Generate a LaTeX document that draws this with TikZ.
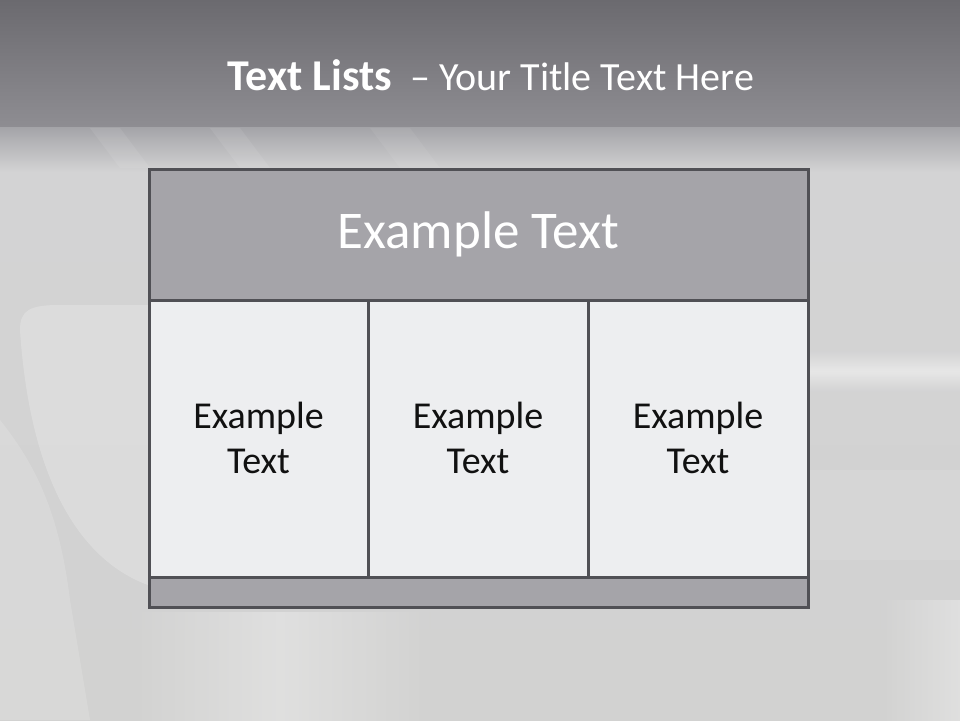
\documentclass[tikz,border=0pt]{standalone}
\usepackage{fontspec}
\setmainfont{Carlito}
\begin{document}
\begin{tikzpicture}[x=1pt,y=-1pt,
  frame/.style={draw=boxline,line width=3pt},
  hdr/.style={frame,fill=hdrfill},
  colbox/.style={frame,fill=colfill},
  coltext/.style={align=center,text=coltxt,font=\fontsize{38}{45}\selectfont},
  soft/.style={fill=white,opacity=#1},
]
\definecolor{boxline}{HTML}{505055}
\definecolor{hdrfill}{HTML}{A5A4A9}
\definecolor{colfill}{HTML}{EDEEF0}
\definecolor{coltxt}{HTML}{111111}
\definecolor{bandtop}{HTML}{6B6A6F}
\definecolor{bandbot}{HTML}{8E8D92}
\definecolor{bgupper}{HTML}{A2A2A6}
\definecolor{bgmid}{HTML}{D3D3D4}
\definecolor{bglow}{HTML}{D2D2D1}
\useasboundingbox (0,0) rectangle (960,720);
% background
\shade[top color=bgmid, bottom color=bglow] (0,170) rectangle (960,720);
\shade[top color=bgupper, bottom color=bgmid] (0,125) rectangle (960,172);
\shade[top color=bandtop, bottom color=bandbot] (0,0) rectangle (960,126);
% soft background shapes
\fill[soft=0.22] (20,330) .. controls (20,310) and (30,305) .. (60,305) -- (148,305) -- (148,585) .. controls (80,560) and (30,480) .. (20,330) -- cycle;
\fill[soft=0.15] (0,420) .. controls (40,470) and (60,520) .. (70,600) -- (90,720) -- (0,720) -- cycle;
\shade[top color=bgmid, bottom color=bgmid, middle color=white, opacity=0.45] (810,350) rectangle (960,392);
\fill[soft=0.1] (810,470) rectangle (960,560);
\fill[soft=0.08] (90,128) -- (120,128) -- (150,168) -- (120,168) -- cycle;
\fill[soft=0.08] (210,128) -- (240,128) -- (270,168) -- (240,168) -- cycle;
\fill[soft=0.06] (370,128) -- (410,128) -- (440,168) -- (400,168) -- cycle;
\shade[left color=bglow, right color=bglow, middle color=white, opacity=0.3] (130,612) rectangle (430,720);
\shade[left color=bglow, right color=white, opacity=0.3] (880,600) rectangle (960,720);
% title
\node[text=white,font=\fontsize{40}{48}\selectfont] (title) at (491,75) {{\fontsize{44}{48}\selectfont\textbf{Text Lists}}\ \ – Your Title Text Here};
% boxes
\draw[hdr] (149,169) rectangle (808,300);
\draw[colbox] (149,300) rectangle (368,577);
\draw[colbox] (368,300) rectangle (588,577);
\draw[colbox] (588,300) rectangle (808,577);
\draw[hdr] (149,577) rectangle (808,607);
% header text
\node[text=white,font=\fontsize{53}{60}\selectfont] (htext) at (478.5,234) {Example Text};
% column texts
\node[coltext] (c1) at (258.5,438) {Example\\Text};
\node[coltext] (c2) at (478,438) {Example\\Text};
\node[coltext] (c3) at (698,438) {Example\\Text};
\end{tikzpicture}
\end{document}
